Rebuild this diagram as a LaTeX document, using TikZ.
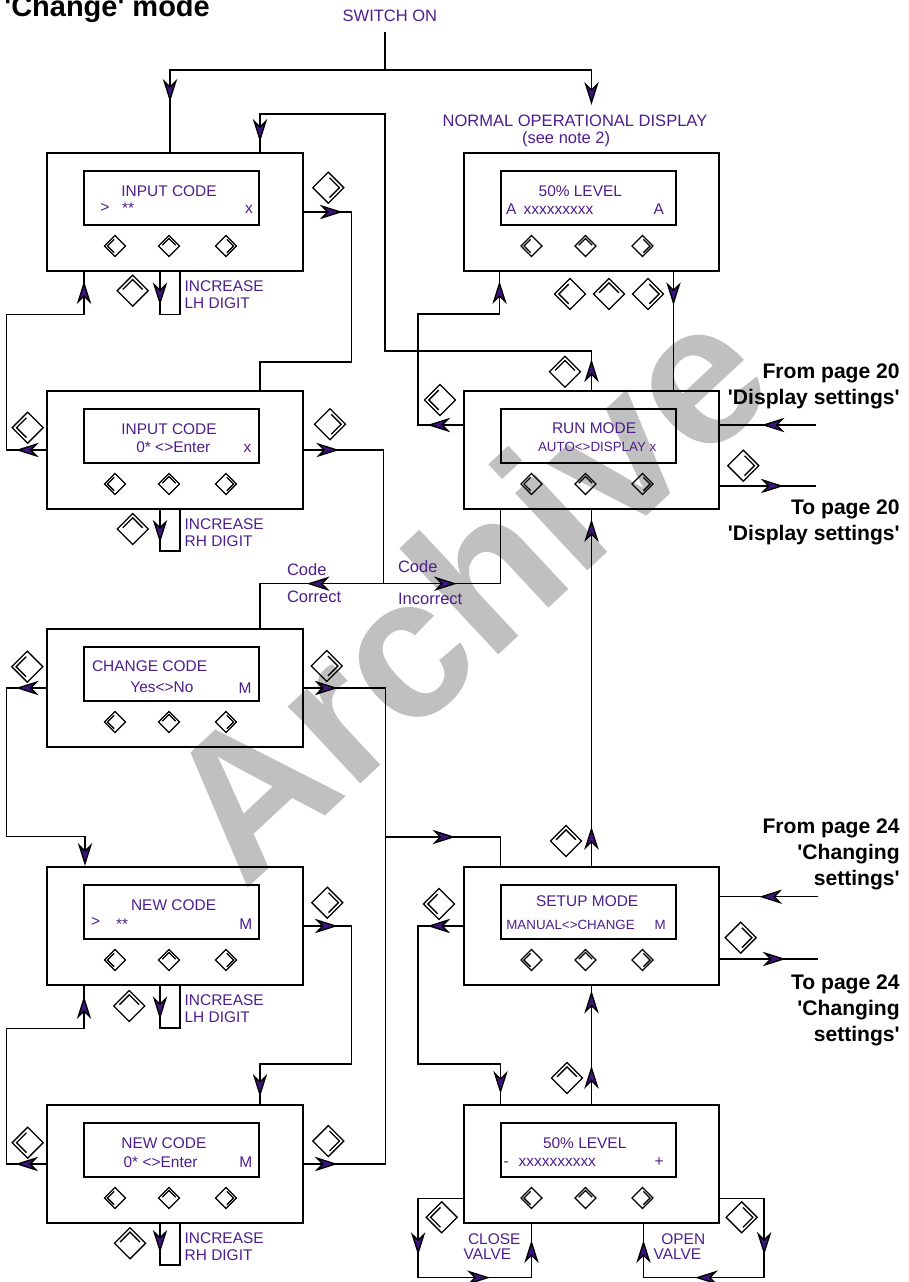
\documentclass[tikz,border=0pt]{standalone}
\usepackage{fontspec}
\setmainfont{Liberation Sans}
\usepackage{tikz}
\usetikzlibrary{arrows.meta,calc,decorations.markings}
\definecolor{lcdPurple}{RGB}{76,30,140}
\definecolor{tipPurple}{RGB}{62,20,128}
\definecolor{stampGray}{RGB}{192,192,192}

\begin{document}
\begin{tikzpicture}[x=0.02cm, y=-0.02cm,
  flowtip/.tip={Stealth[length=13pt, width=8.2pt, inset=4pt, fill=tipPurple]},
  wire/.style={line width=0.8pt},
  tipat/.style={postaction={decorate, decoration={markings, mark=at position #1 with {\arrow{flowtip}}}}},
  panel/.style={draw, line width=1.1pt, minimum width=5.11cm, minimum height=2.37cm, inner sep=0pt},
  screen/.style={draw, line width=1.1pt, minimum width=3.5cm, minimum height=1.09cm, inner sep=0pt},
  lcd/.style={text=lcdPurple, font=\fontsize{8.8}{9.5}\selectfont, anchor=base west, inner sep=0pt},
  lcdsmall/.style={lcd, font=\fontsize{7.6}{9}\selectfont},
  note/.style={lcd, font=\fontsize{9.4}{11}\selectfont},
  side/.style={font=\bfseries\fontsize{12}{14.8}\selectfont, align=right, anchor=north east, inner sep=0pt},
  pics/keybtn/.style={code={
    \draw[line width=0.75pt] (1,0) -- (0,1) -- (-1,0) -- (0,-1) -- cycle;
    \draw[line width=0.75pt] (0.08,0.64) -- (0.72,0) -- (0.08,-0.64);
  }},
]
  \useasboundingbox (0,0) rectangle (909,1282);

  % Watermark
  \node[rotate=43, anchor=base west, inner sep=0pt, text=stampGray,
    font=\bfseries\fontsize{114}{114}\selectfont] (stamp) at (244,892) {Archive};

  % Headings
  \node[anchor=base west, inner sep=0pt, font=\bfseries\fontsize{16.5}{18}\selectfont]
    (title) at (4,16.5) {\textquotesingle Change\textquotesingle\ mode};
  \node[note] (switch) at (342.3,21.7) {SWITCH ON};
  \node[note] (normtxt) at (442.3,126.7) {NORMAL OPERATIONAL DISPLAY};
  \node[note] (normnote) at (521.7,143) {(see note 2)};

  % Panels
  \node[panel] (inA) at (175,212) {};
  \node[panel] (inB) at (175,450) {};
  \node[panel] (chg) at (175,688) {};
  \node[panel] (newA) at (175,926) {};
  \node[panel] (newB) at (175,1164) {};
  \node[panel] (norm) at (591.5,212) {};
  \node[panel] (run) at (591.5,450) {};
  \node[panel] (setup) at (591.5,926) {};
  \node[panel] (level) at (591.5,1164) {};

  % Screens and the three keys under each
  \foreach \p in {inA,inB,chg,newA,newB,norm,run,setup,level} {
    \node[screen] (\p-lcd) at ($(\p)+(-3.3,-14)$) {};
    \pic[scale=10.5, rotate=180] at ($(\p)+(-60,34)$) {keybtn};
    \pic[scale=10.5, rotate=90] at ($(\p)+(-6,34)$) {keybtn};
    \pic[scale=10.5] at ($(\p)+(51,34)$) {keybtn};
  }

  % Screen texts
  \node[lcd] (inA-t1) at (121,196) {INPUT CODE};
  \node[lcd] (inA-t2) at (100,212) {>};
  \node[lcd] (inA-t3) at (121.7,213) {**};
  \node[lcd] (inA-t4) at (244.7,213) {x};
  \node[lcd] (inB-t1) at (121,434) {INPUT CODE};
  \node[lcd] (inB-t2) at (136,452) {0* <>Enter};
  \node[lcd] (inB-t3) at (243.3,452) {x};
  \node[lcd] (chg-t1) at (91.7,671) {CHANGE CODE};
  \node[lcd] (chg-t2) at (130,692.3) {Yes<>No};
  \node[lcd] (chg-t3) at (238.3,693) {M};
  \node[lcd] (newA-t1) at (130.7,910) {NEW CODE};
  \node[lcd] (newA-t2) at (90.7,926) {>};
  \node[lcd] (newA-t3) at (115.7,929) {**};
  \node[lcd] (newA-t4) at (239,929) {M};
  \node[lcd] (newB-t1) at (121,1148.3) {NEW CODE};
  \node[lcd] (newB-t2) at (123.3,1167.3) {0* <>Enter};
  \node[lcd] (newB-t3) at (239,1167.3) {M};
  \node[lcd] (norm-t1) at (538.3,196) {50\% LEVEL};
  \node[lcd] (norm-t2) at (505.7,214) {A};
  \node[lcd] (norm-t3) at (523.3,214) {xxxxxxxxx};
  \node[lcd] (norm-t4) at (653.3,214) {A};
  \node[lcd] (run-t1) at (551.7,433.3) {RUN MODE};
  \node[lcdsmall] (run-t2) at (537.7,451.7) {AUTO<>DISPLAY x};
  \node[lcd] (setup-t1) at (535.7,906.7) {SETUP MODE};
  \node[lcdsmall] (setup-t2) at (506,929.3) {MANUAL<>CHANGE};
  \node[lcdsmall] (setup-t3) at (654.3,929.3) {M};
  \node[lcd] (level-t1) at (542.7,1148.3) {50\% LEVEL};
  \node[lcd] (level-t2) at (503.3,1166) {-};
  \node[lcd] (level-t3) at (518.3,1166) {xxxxxxxxxx};
  \node[lcd] (level-t4) at (654.3,1166) {+};

  % Key labels
  \node[lcd, align=left, anchor=north west] (incA) at ($(inA.south)+(9.3,8.6)$) {INCREASE\\LH DIGIT};
  \node[lcd, align=left, anchor=north west] (incB) at ($(inB.south)+(9.3,8.3)$) {INCREASE\\RH DIGIT};
  \node[lcd, align=left, anchor=north west] (incC) at ($(newA.south)+(9.3,8.3)$) {INCREASE\\LH DIGIT};
  \node[lcd, align=left, anchor=north west] (incD) at ($(newB.south)+(9.3,8.3)$) {INCREASE\\RH DIGIT};
  \node[note] (ok1) at (286.7,575) {Code};
  \node[note] (ok2) at (286.7,602.7) {Correct};
  \node[note] (bad1) at (397.7,572.3) {Code};
  \node[note] (bad2) at (397.7,604) {Incorrect};
  \node[lcd] (close1) at (467.7,1244) {CLOSE};
  \node[lcd] (close2) at (463.3,1259) {VALVE};
  \node[lcd] (open1) at (661,1244) {OPEN};
  \node[lcd] (open2) at (653.3,1259) {VALVE};

  % Page references
  \node[side] (from20) at (900,363.5) {From page 20\\\textquotesingle Display settings\textquotesingle};
  \node[side] (to20) at (900,499) {To page 20\\\textquotesingle Display settings\textquotesingle};
  \node[side] (from24) at (900,818.5) {From page 24\\\textquotesingle Changing\\settings\textquotesingle};
  \node[side] (to24) at (900,974.5) {To page 24\\\textquotesingle Changing\\settings\textquotesingle};

  % Key presses beside the connectors
  \foreach \x/\y/\r in {328.3/187.7/0, 132.7/290.7/90, 27.7/427.7/180, 330/424.3/0, 132.7/529/90,
      27.3/666.7/180, 326.7/666/0, 327.3/902.7/0, 129.3/1006/90, 27.7/1142.7/180, 328.3/1141/0,
      130/1243.3/90, 570/294/180, 609/294/90, 648/294/0, 565/371.7/90, 440/400/180, 743.3/465.7/0,
      566/841/90, 439/904/180, 740.7/937.7/0, 567/1078/90, 441.7/1217.3/180, 741.7/1217.3/0}
    \pic[scale=15.5, rotate=\r] at (\x,\y) {keybtn};

  % Switch on
  \coordinate (on) at (385,70);
  \draw[wire] (switch.south -| on) ++(0,9.3) -- (on);
  \draw[wire, tipat=-1cm] (on) -| ($(inA.north)+(-5,0)$);
  \draw[wire, -flowtip] (on) -| ($(normtxt.north -| norm.north)+(0,-10)$);

  % Input code
  \draw[wire, tipat=0.61cm, tipat=-0.2cm] (run.north) |- (385,351) |- ($(inA.north)+(85,-38)$) -- ($(inA.north)+(85,0)$);
  \draw[wire, tipat=0.78cm] (inA.east) -- ++(48,0) |- ($(inB.north)+(85,-28)$) -- ($(inB.north)+(85,0)$);
  \draw[wire, tipat=0.66cm] ($(inA.south)+(-15,0)$) -- ++(0,42) -| ($(inA.south)+(5,0)$);
  \draw[wire, tipat=0.61cm, tipat=-0.18cm] (inB.west) -- ++(-39.6,0) |- ($(inA.south)+(-91,42)$) -- ($(inA.south)+(-91,0)$);
  \draw[wire, tipat=0.65cm] ($(inB.south)+(-15,0)$) -- ++(0,40.7) -| ($(inB.south)+(5,0)$);

  % Code check
  \coordinate (check) at (383.3,583.7);
  \draw[wire, tipat=0.71cm] (inB.east) -| (check);
  \draw[wire, tipat=1.53cm] (check) -| ($(chg.north)+(85,0)$);
  \draw[wire, tipat=1.47cm] (check) -| ($(run.south)+(-91,0)$);

  % Change code
  \coordinate (tosetup) at (385.7,837);
  \draw[wire, tipat=0.61cm, -flowtip] (chg.west) -- ++(-39.6,0) |- ($(newA.north)+(-90,-29.3)$) -- ($(newA.north)+(-90,0)$);
  \draw[wire, tipat=0.68cm, tipat=-1.48cm] (chg.east) -| (tosetup) -| ($(setup.north)+(-91,0)$);

  % New code
  \draw[wire, tipat=0.68cm, tipat=-0.14cm] (newA.east) -- ++(48,0) |- ($(newB.north)+(85,-40)$) -- ($(newB.north)+(85,0)$);
  \draw[wire, tipat=0.66cm] ($(newA.south)+(-15,0)$) -- ++(0,41.7) -| ($(newA.south)+(5,0)$);
  \draw[wire, tipat=0.62cm, tipat=-0.2cm] (newB.west) -- ++(-39.6,0) |- ($(newA.south)+(-91,42.3)$) -- ($(newA.south)+(-91,0)$);
  \draw[wire, tipat=0.57cm] ($(newB.south)+(-15,0)$) -- ++(0,40.7) -| ($(newB.south)+(5,0)$);
  \draw[wire, tipat=0.68cm] (newB.east) -| (tosetup);

  % Normal display and run mode
  \draw[wire, tipat=0.66cm] ($(norm.south)+(82,0)$) -- ($(run.north)+(82,0)$);
  \draw[wire, tipat=0.71cm, tipat=-0.18cm] ($(run.west)+(0,-25)$) -- ++(-44.7,0) |- ($(norm.south)+(-92,41.7)$) -- ($(norm.south)+(-92,0)$);
  \coordinate (p20in) at (815.7,425);
  \coordinate (p20out) at (815.7,486);
  \draw[wire, tipat=1.08cm] (p20in) -- (p20in -| run.east);
  \draw[wire, tipat=1.27cm] (p20out -| run.east) -- (p20out);

  % Setup mode
  \draw[wire, tipat=0.78cm, tipat=-0.18cm] (setup.north) -- (run.south);
  \draw[wire, tipat=0.71cm, tipat=-0.2cm] (setup.west) -- ++(-44.7,0) |- ($(level.north)+(-91,-40)$) -- ($(level.north)+(-91,0)$);
  \draw[wire, tipat=0.76cm, tipat=-0.09cm] (level.north) -- (setup.south);
  \coordinate (p24in) at (818.3,896.7);
  \coordinate (p24out) at (818.3,959);
  \draw[wire, tipat=1.18cm] (p24in) -- (p24in -| setup.east);
  \draw[wire, tipat=1.31cm] (p24out -| setup.east) -- (p24out);

  % Valve loops
  \draw[wire, tipat=2.03cm, tipat=3.92cm, tipat=-0.32cm] ($(level.west)+(0,34.3)$) -- ++(-44.7,0) |- ($(level.south)+(-60,53.4)$) -- ($(level.south)+(-60,0)$);
  \draw[wire, tipat=2.01cm, tipat=3.85cm, tipat=-0.32cm] ($(level.east)+(0,34.3)$) -- ++(44,0) |- ($(level.south)+(52,53.4)$) -- ($(level.south)+(52,0)$);
\end{tikzpicture}
\end{document}
